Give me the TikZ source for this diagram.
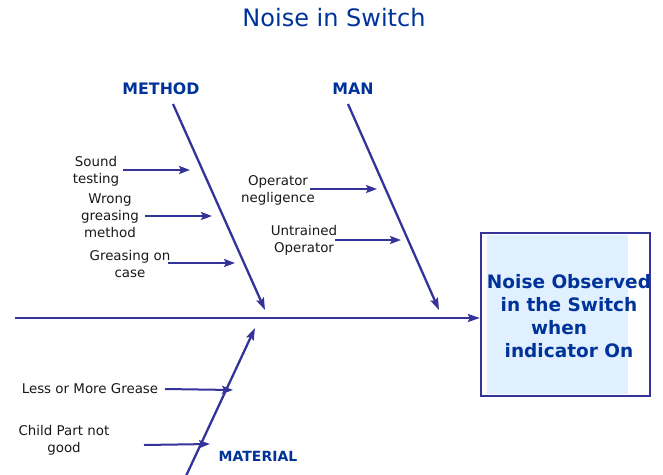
\documentclass[tikz,border=0pt]{standalone}
\usepackage{fontspec}
\setmainfont{DejaVu Sans}
\usetikzlibrary{positioning,arrows.meta}
\definecolor{fishblue}{RGB}{51,51,153}
\definecolor{headblue}{RGB}{0,51,153}
\definecolor{boxfill}{RGB}{224,240,255}

\begin{document}
\begin{tikzpicture}[x=1pt,y=-1pt,
  spine/.style={draw=fishblue,line width=2.3pt,-{Stealth[length=12pt,width=8pt,inset=2pt]}},
  twig/.style={draw=fishblue,line width=2pt,-{Stealth[length=11pt,width=8pt,inset=2pt]}},
  cause/.style={font=\fontsize{13.4}{17}\selectfont,text=black!90,align=center,inner sep=0pt},
  group/.style={font=\bfseries\fontsize{15.8}{18}\selectfont,text=headblue,inner sep=0pt}]
\useasboundingbox (0,0) rectangle (663,474);
\node[font=\fontsize{24}{28}\selectfont,text=headblue] (title) at (334,18) {Noise in Switch};

% effect
\fill[boxfill] (487,235) rectangle (628,394);
\node[draw=fishblue,line width=2.3pt,minimum width=169pt,minimum height=163pt,inner sep=0pt] (effect) at (565.5,314.5) {};
\node[font=\bfseries\fontsize{18.5}{23}\selectfont,text=headblue,align=center] (effecttext) at (569,316)
  {Noise Observed\\in the Switch\\when\rule{20pt}{0pt}\\indicator On};

% spine
\coordinate (tail) at (15,318);
\draw[spine] (tail) -- (tail -| effect.west);

% METHOD
\node[group] (method) at (161,89) {METHOD};
\coordinate (methodtop) at (173,104); \coordinate (methodend) at (265,310);
\draw[spine] (methodtop) -- (methodend);
\node[cause] (sound) at (96,171) {Sound\\testing};
\coordinate (s1) at (123,170); \coordinate [right=67pt of s1] (s1e);
\node[cause] (wrong) at (110,216) {Wrong\\greasing\\method};
\coordinate (s2) at (145,216); \coordinate [right=67pt of s2] (s2e);
\node[cause] (grease) at (130,264) {Greasing on\\case};
\coordinate (s3) at (168,263); \coordinate [right=67pt of s3] (s3e);
\draw[twig] (s1) -- (s1e);
\draw[twig] (s2) -- (s2e);
\draw[twig] (s3) -- (s3e);

% MAN
\node[group] (man) at (353,89) {MAN};
\coordinate (mantop) at (348,104); \coordinate (manend) at (439,310);
\draw[spine] (mantop) -- (manend);
\node[cause] (negl) at (278,190) {Operator\\negligence};
\coordinate (m1) at (310,189); \coordinate [right=67pt of m1] (m1e);
\node[cause] (untrained) at (304,240) {Untrained\\Operator};
\coordinate (m2) at (335,240); \coordinate [right=66pt of m2] (m2e);
\draw[twig] (m1) -- (m1e);
\draw[twig] (m2) -- (m2e);

% MATERIAL
\node[group,font=\bfseries\fontsize{14}{16}\selectfont] (material) at (258,456) {MATERIAL};
\coordinate (matbottom) at (186,476); \coordinate (matend) at (255,328);
\draw[spine] (matbottom) -- (matend);
\node[cause] (less) at (90,389) {Less or More Grease};
\coordinate (t1) at (165,389); \coordinate (t1e) at (233,390);
\node[cause] (child) at (64,440) {Child Part not\\good};
\coordinate (t2) at (144,445); \coordinate (t2e) at (210,444);
\draw[twig] (t1) -- (t1e);
\draw[twig] (t2) -- (t2e);
\end{tikzpicture}
\end{document}
